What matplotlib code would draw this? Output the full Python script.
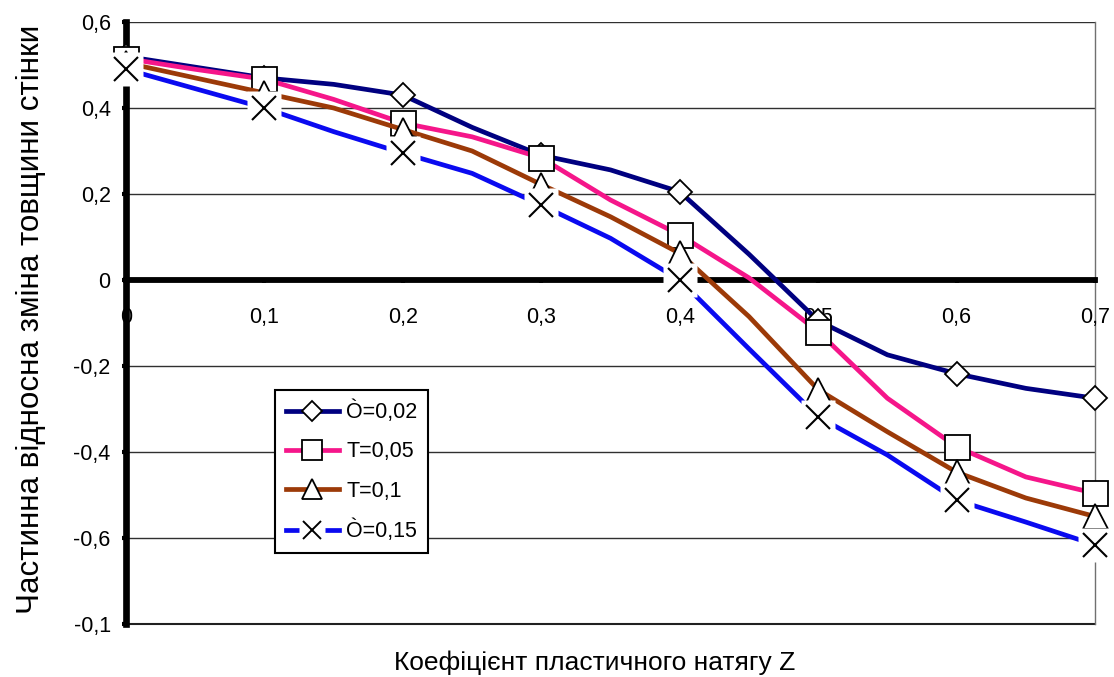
import matplotlib
matplotlib.use("Agg")
import matplotlib.pyplot as plt
from matplotlib.lines import Line2D

plt.rcParams['font.family'] = ['Liberation Sans', 'DejaVu Sans']

# ---- data ----
z = [0.0, 0.05, 0.1, 0.15, 0.2, 0.25, 0.3, 0.35, 0.4, 0.45, 0.5, 0.55, 0.6, 0.65, 0.7]
s_002 = [0.52, 0.495, 0.47, 0.455, 0.43, 0.355, 0.29, 0.256, 0.205, 0.06, -0.095, -0.174, -0.218, -0.252, -0.275]
s_005 = [0.515, 0.49, 0.467, 0.42, 0.365, 0.333, 0.284, 0.186, 0.105, 0.005, -0.12, -0.275, -0.388, -0.458, -0.496]
s_010 = [0.505, 0.47, 0.435, 0.40, 0.35, 0.30, 0.222, 0.147, 0.062, -0.085, -0.255, -0.353, -0.447, -0.507, -0.55]
s_015 = [0.49, 0.445, 0.40, 0.345, 0.295, 0.248, 0.174, 0.097, 0.0, -0.16, -0.318, -0.407, -0.512, -0.563, -0.616]
labels = ['Ò=0,02', 'T=0,05', 'T=0,1', 'Ò=0,15']
xticks = [0, 0.1, 0.2, 0.3, 0.4, 0.5, 0.6, 0.7]
xticklabels = ['0', '0,1', '0,2', '0,3', '0,4', '0,5', '0,6', '0,7']
yticks = [0.6, 0.4, 0.2, 0, -0.2, -0.4, -0.6, -0.8]
yticklabels = ['0,6', '0,4', '0,2', '0', '-0,2', '-0,4', '-0,6', '-0,1']
xlabel = 'Коефіцієнт пластичного натягу Z'
ylabel = 'Частинна відносна зміна товщини стінки'

c_navy = '#000080'
c_pink = '#F5168A'
c_brown = '#9C3A08'
c_blue = '#0A0AF0'

fig = plt.figure(figsize=(11.14, 6.77), dpi=100)
ax = fig.add_axes([0.1131, 0.0783, 0.8699, 0.8892])
ax.set_xlim(0, 0.7)
ax.set_ylim(-0.8, 0.6)

# grid
for gy in [0.6, 0.4, 0.2, -0.2, -0.4, -0.6]:
    ax.axhline(gy, color='#303030', lw=1.0, zorder=1)
ax.axhline(-0.8, color='#202020', lw=1.5, zorder=1, clip_on=False)
ax.axvline(0.7, color='#707070', lw=1.0, zorder=1, clip_on=False)

for sp in ['top', 'right']:
    ax.spines[sp].set_visible(False)
ax.spines['bottom'].set_position(('data', 0))
ax.spines['bottom'].set_linewidth(4.2)
ax.spines['left'].set_linewidth(4.8)
for sp in ['bottom', 'left']:
    ax.spines[sp].set_zorder(2)

ax.set_xticks(xticks)
ax.set_xticklabels(xticklabels)
ax.set_yticks(yticks)
ax.set_yticklabels(yticklabels)
ax.tick_params(axis='x', direction='out', length=2.5, width=3, labelsize=15.5, pad=17)
ax.tick_params(axis='y', direction='out', length=3, width=3, labelsize=15.5, pad=8)

lw = 3.4
ms_kw = dict(markerfacecolor='white', markeredgecolor='black', markeredgewidth=1.3)
ax.plot(z, s_002, color=c_navy, lw=lw, marker='D', markersize=12, markevery=2,
        clip_on=False, zorder=3, **ms_kw)
ax.plot(z, s_005, color=c_pink, lw=lw, marker='s', markersize=18, markevery=2,
        clip_on=False, zorder=4, **ms_kw)
ax.plot(z, s_010, color=c_brown, lw=lw, marker='^', markersize=18, markevery=2,
        clip_on=False, zorder=5, **ms_kw)
ax.plot(z, s_015, color=c_blue, lw=lw, clip_on=False, zorder=6)
ax.plot(z[::2], s_015[::2], ls='none', marker='s', markersize=24, markerfacecolor='white',
        markeredgecolor='none', clip_on=False, zorder=7)
ax.plot(z[::2], s_015[::2], ls='none', marker='x', markersize=17, markeredgecolor='black',
        markeredgewidth=1.5, clip_on=False, zorder=8)

# legend
h1 = Line2D([], [], color=c_navy, lw=lw, marker='D', markersize=10, **ms_kw)
h2 = Line2D([], [], color=c_pink, lw=lw, marker='s', markersize=14, **ms_kw)
h3 = Line2D([], [], color=c_brown, lw=lw, marker='^', markersize=14, **ms_kw)
h4a = Line2D([], [], color=c_blue, lw=lw)
h4b = Line2D([], [], ls='none', marker='s', markersize=19, markerfacecolor='white', markeredgecolor='none')
h4c = Line2D([], [], ls='none', marker='x', markersize=13, markeredgecolor='black', markeredgewidth=1.4)
leg = ax.legend([h1, h2, h3, (h4a, h4b, h4c)], labels, loc='upper left',
                bbox_to_anchor=(0.154, 0.389), borderaxespad=0, fontsize=15.5,
                frameon=True, fancybox=False, edgecolor='black', framealpha=1,
                handlelength=2.45, handletextpad=0.35, labelspacing=0.85, borderpad=0.5)
leg.get_frame().set_linewidth(1.5)
leg.set_zorder(10)

fig.text(595 / 1114, 1 - 663 / 677, xlabel, fontsize=19, ha='center', va='center')
fig.text(31 / 1114, 1 - 319 / 677, ylabel, fontsize=22.6, ha='center', va='center', rotation=90)

fig.savefig('out.png', dpi=100, facecolor='white')
